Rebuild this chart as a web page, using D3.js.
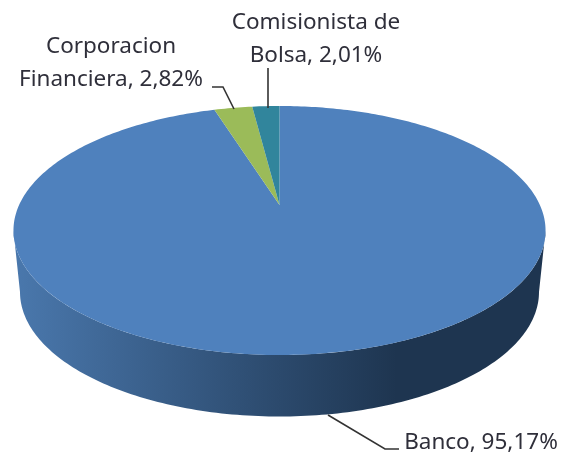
<!DOCTYPE html>
<html>
<head>
<meta charset="utf-8">
<title>Pie</title>
<style>
html,body{margin:0;padding:0;background:#fff;}
svg{display:block;}
text{font-family:"Noto Sans",sans-serif;font-size:22.5px;fill:#2f2f3a;}
</style>
<script src="https://d3js.org/d3.v7.min.js"></script>
</head>
<body>
<svg width="562" height="453"></svg>
<script>
var categories = ["Banco", "Corporacion Financiera", "Comisionista de Bolsa"];
var shares = [95.17, 2.82, 2.01];
var shareLabels = ["95,17%", "2,82%", "2,01%"];
var colors = ["#4f81bd", "#9bbb59", "#31859c"];

var svg = d3.select("svg");

// Excel tilts the pie in perspective, so the centre sits above the middle of the ellipse
var k = 0.2048;
var centerX = 279.5, centerY = 205;
function project(a, cx, cy, A, B) {
  var u = Math.sin(a), v = Math.cos(a), w = 1 + k * v;
  return [cx + A * u / w, cy - B * v / w];
}
function topPoint(a) { return project(a, centerX, centerY, 260.4, 119.3); }
function bottomPoint(a) { return project(a, centerX, 266.5, 254, 119.3); }

function arcPoints(a0, a1, fn) {
  var n = Math.max(2, Math.ceil(Math.abs(a1 - a0) * 60));
  return d3.range(n + 1).map(function (i) { return fn(a0 + (a1 - a0) * i / n); });
}
var line = d3.line();

var grad = svg.append("defs").append("linearGradient")
  .attr("id", "side").attr("gradientUnits", "userSpaceOnUse")
  .attr("x1", 13).attr("x2", 546).attr("y1", 0).attr("y2", 0);
grad.append("stop").attr("offset", 0).attr("stop-color", "#4a78ad");
grad.append("stop").attr("offset", 0.72).attr("stop-color", "#1e3550");
grad.append("stop").attr("offset", 1).attr("stop-color", "#1e3550");

var pie = d3.pie().sort(null);
var slices = pie(shares);

var root = svg.append("g").style("filter", "blur(0.5px)");

// wall of the pie, front half only
var leftEdge = Math.PI * 1.5 - Math.asin(k);
var rightEdge = Math.PI * 0.5 + Math.asin(k);
var wall = arcPoints(rightEdge, leftEdge, topPoint).concat(arcPoints(leftEdge, rightEdge, bottomPoint));
root.append("path").attr("d", line(wall) + "Z").attr("fill", "url(#side)");

root.selectAll("path.slice").data(slices).enter().append("path")
  .attr("class", "slice")
  .attr("fill", function (d, i) { return colors[i]; })
  .attr("d", function (d) {
    return line([[centerX, centerY]].concat(arcPoints(d.startAngle, d.endAngle, topPoint))) + "Z";
  });

// leader lines
var leaders = [
  [[328, 415], [385, 449], [399, 449]],
  [[212, 87], [223, 87], [234, 109]],
  [[268, 68], [268, 108]]
];
root.selectAll("path.leader").data(leaders).enter().append("path")
  .attr("class", "leader")
  .attr("fill", "none").attr("stroke", "#333").attr("stroke-width", 1.6)
  .attr("d", function (d) { return line(d); });

var labels = [
  { x: 481, y: 449, lines: [categories[0] + ", " + shareLabels[0]] },
  { x: 111, y: 53, lines: ["Corporacion", "Financiera, " + shareLabels[1]] },
  { x: 316, y: 29, lines: ["Comisionista de", "Bolsa, " + shareLabels[2]] }
];
labels.forEach(function (l) {
  var t = root.append("text").attr("text-anchor", "middle");
  l.lines.forEach(function (s, i) {
    t.append("tspan").attr("x", l.x).attr("y", l.y + i * 32.5).text(s);
  });
});
</script>
</body>
</html>
